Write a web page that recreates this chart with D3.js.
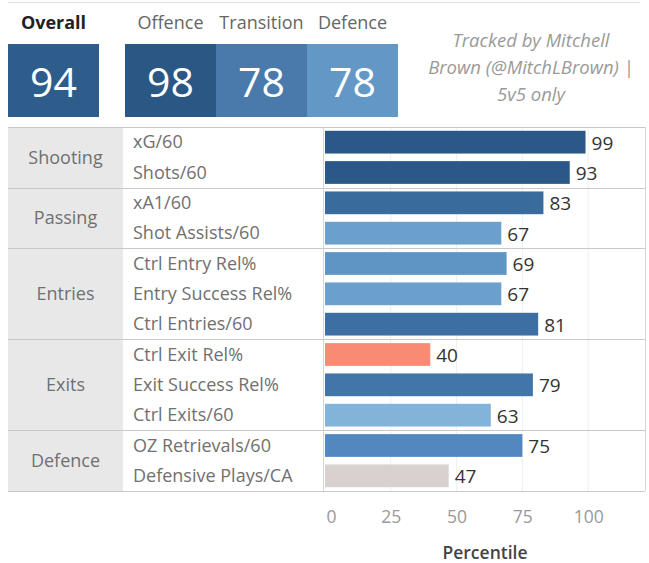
<!DOCTYPE html>
<html>
<head>
<meta charset="utf-8">
<script src="https://cdn.jsdelivr.net/npm/d3@7"></script>
<style>
  html, body { margin: 0; padding: 0; background: #fff; }
  svg { display: block; font-family: "Open Sans", "Noto Sans", sans-serif; }
</style>
</head>
<body>
<svg id="chart" width="649" height="563"></svg>
<script>
// ---- data ----
const summaryLabels = ["Overall", "Offence", "Transition", "Defence"];
const summaryValues = [94, 98, 78, 78];
const groups = ["Shooting", "Passing", "Entries", "Exits", "Defence"];
const metrics = ["xG/60", "Shots/60", "xA1/60", "Shot Assists/60", "Ctrl Entry Rel%", "Entry Success Rel%",
                 "Ctrl Entries/60", "Ctrl Exit Rel%", "Exit Success Rel%", "Ctrl Exits/60", "OZ Retrievals/60", "Defensive Plays/CA"];
const metricGroup = ["Shooting", "Shooting", "Passing", "Passing", "Entries", "Entries",
                     "Entries", "Exits", "Exits", "Exits", "Defence", "Defence"];
const percentiles = [99, 93, 83, 67, 69, 67, 81, 40, 79, 63, 75, 47];
const tickValues = [0, 25, 50, 75, 100];
const axisTitle = "Percentile";
const creditLines = ["Tracked by Mitchell", "Brown (@MitchLBrown) |", "5v5 only"];

// ---- styles ----
const boxColors = ["#2e5d8c", "#2b5784", "#4a7aab", "#6398c6"];
const color = d3.scaleLinear()
  .domain([40, 47, 63, 69, 75, 80, 93])
  .range(["#f98b74", "#d9d1cf", "#84b3da", "#5e95c5", "#5088bf", "#3f71a4", "#2b5886"])
  .clamp(true);

const svg = d3.select("#chart");
const L = 8, greyR = 123, barL = 324, R = 645, T = 127, B = 491;

// top rule
svg.append("line").attr("x1", 8).attr("x2", 640).attr("y1", 2.5).attr("y2", 2.5)
  .attr("stroke", "#e2e2e2").attr("stroke-width", 1);

// ---- summary boxes ----
const boxX = [8, 125, 216, 307];
const boxW = [91, 91, 91, 91];
const boxTop = 44, boxBot = 117;
summaryLabels.forEach((lab, i) => {
  const cx = boxX[i] + boxW[i] / 2;
  svg.append("text").attr("x", cx).attr("y", 23).attr("dy", "0.35em")
    .attr("text-anchor", "middle")
    .attr("font-size", 18)
    .attr("font-weight", i === 0 ? 700 : 400)
    .attr("fill", i === 0 ? "#222" : "#666")
    .text(lab);
  svg.append("rect").attr("x", boxX[i]).attr("y", boxTop).attr("width", boxW[i]).attr("height", boxBot - boxTop)
    .attr("fill", boxColors[i]);
  svg.append("text").attr("x", cx).attr("y", (boxTop + boxBot) / 2 + 2).attr("dy", "0.35em")
    .attr("text-anchor", "middle").attr("font-size", 41).attr("fill", "#fff")
    .text(summaryValues[i]);
});

creditLines.forEach((t, i) => {
  svg.append("text").attr("x", 531).attr("y", 41 + i * 27).attr("dy", "0.35em")
    .attr("text-anchor", "middle").attr("font-size", 18.5).attr("font-style", "italic")
    .attr("fill", "#9a9a9a").text(t);
});

// ---- scales ----
const x = d3.scaleLinear().domain([0, 121.6]).range([325, R]);
const y = d3.scaleBand().domain(metrics).range([T, B]).paddingInner(0.25).paddingOuter(0.125);
const step = y.step();

// group extents
const groupExt = groups.map(g => {
  const rows = metrics.filter((m, i) => metricGroup[i] === g);
  const y0 = y(rows[0]) - step * y.paddingInner() / 2;
  const y1 = y(rows[rows.length - 1]) + y.bandwidth() + step * y.paddingInner() / 2;
  return { g, y0, y1 };
});

// grey group column
svg.append("rect").attr("x", L).attr("y", T).attr("width", greyR - L).attr("height", B - T).attr("fill", "#e8e8e8");

// gridlines
svg.append("g").selectAll("line").data(tickValues.filter(d => d > 0)).join("line")
  .attr("x1", d => x(d)).attr("x2", d => x(d)).attr("y1", T).attr("y2", B)
  .attr("stroke", "#efefef").attr("stroke-width", 1);

// bar area frame verticals
svg.append("line").attr("x1", barL - 0.5).attr("x2", barL - 0.5).attr("y1", T).attr("y2", B).attr("stroke", "#d6d6d6");
svg.append("line").attr("x1", R + 0.5).attr("x2", R + 0.5).attr("y1", T).attr("y2", B).attr("stroke", "#d6d6d6");

// group separators
const seps = [T].concat(groupExt.map(d => d.y1));
svg.append("g").selectAll("line").data(seps).join("line")
  .attr("x1", L).attr("x2", R).attr("y1", d => Math.round(d) + 0.5).attr("y2", d => Math.round(d) + 0.5)
  .attr("stroke", "#c8c8c8").attr("stroke-width", 1);

// group labels
svg.append("g").selectAll("text").data(groupExt).join("text")
  .attr("x", (L + greyR) / 2).attr("y", d => (d.y0 + d.y1) / 2).attr("dy", "0.35em")
  .attr("text-anchor", "middle").attr("font-size", 18).attr("fill", "#707070")
  .text(d => d.g);

// row labels
svg.append("g").selectAll("text").data(metrics).join("text")
  .attr("x", 133).attr("y", d => y(d) + y.bandwidth() / 2).attr("dy", "0.35em")
  .attr("font-size", 18).attr("fill", "#707070").text(d => d);

// bars
const rows = metrics.map((m, i) => ({ m, v: percentiles[i] }));
svg.append("g").selectAll("rect").data(rows).join("rect")
  .attr("x", x(0)).attr("y", d => y(d.m)).attr("width", d => x(d.v) - x(0)).attr("height", y.bandwidth())
  .attr("fill", d => color(d.v));

// value labels
svg.append("g").selectAll("text").data(rows).join("text")
  .attr("x", d => x(d.v) + 6).attr("y", d => y(d.m) + y.bandwidth() / 2 + 1).attr("dy", "0.35em")
  .attr("font-size", 19).attr("fill", "#333").text(d => d.v);

// axis
const axis = d3.axisBottom(x).tickValues(tickValues).tickSize(0).tickPadding(0);
const ag = svg.append("g").attr("transform", `translate(0, ${B})`).call(axis);
ag.select(".domain").remove();
ag.selectAll("text").attr("font-family", "Open Sans, sans-serif").attr("font-size", 17.5).attr("fill", "#999")
  .attr("y", 26).attr("dy", "0.35em")
  .attr("dx", d => d === 0 ? 6 : 0);

svg.append("text").attr("x", (x(0) + R) / 2).attr("y", 553).attr("dy", "0.35em")
  .attr("text-anchor", "middle").attr("font-size", 17.5).attr("font-weight", 600).attr("fill", "#444")
  .text(axisTitle);
</script>
</body>
</html>
